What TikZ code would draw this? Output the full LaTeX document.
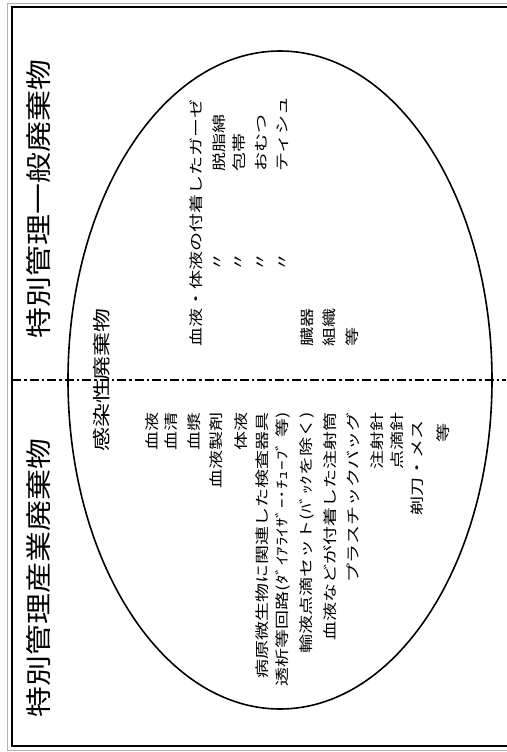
\documentclass[tikz,border=0pt]{standalone}
\usepackage{graphicx}
\usepackage{fontspec}
\newfontfamily\jp{Noto Sans CJK JP}
\newcommand\ttltxt[1]{\scalebox{1.19}[1]{\fontsize{26}{26}\selectfont #1}}
\newcommand\midtxt[1]{\scalebox{1.33}[1]{\fontsize{18}{18}\selectfont #1}}
\newcommand\lsttxt[1]{\scalebox{1.36}[1]{\fontsize{14}{14}\selectfont #1}}
\begin{document}
\begin{tikzpicture}[x=1pt,y=-1pt,
  lbl/.style={rotate=90, inner sep=0pt, font=\jp},
  endat/.style={lbl, anchor=east},
  startat/.style={lbl, anchor=west},
  frame/.style={line width=1.2pt},
  divider/.style={line width=1.5pt, dash pattern=on 9pt off 3pt on 2.5pt off 3pt},
  oval/.style={line width=1.6pt}
]
\useasboundingbox (0,0) rectangle (506,752);
% frame
\draw[gray!60, line width=0.5pt] (520,3) -- (7,3) -- (7,750) -- (520,750);
\draw[frame] (520,7) -- (12,7) -- (12,746) -- (520,746);
% ellipse
\draw[oval] (280,380) ellipse [x radius=212, y radius=329];
% divider
\coordinate (dl) at (12,380);
\coordinate (dr) at (506,380);
\draw[divider] (dl) -- (dr);
% titles
\node[lbl] (t1) at (38.5,578) {\ttltxt{特別管理産業廃棄物}};
\node[lbl] (t2) at (38.5,199) {\ttltxt{特別管理一般廃棄物}};
% centre heading
\node[lbl] (kansen) at (102,380) {\midtxt{感染性廃棄物}};
% left list
\node[endat] (l1) at (152,412) {\lsttxt{血液}};
\node[endat] (l2) at (171,412) {\lsttxt{血清}};
\node[endat] (l3) at (194,412) {\lsttxt{血漿}};
\node[endat] (l4) at (216,412) {\lsttxt{血液製剤}};
\node[endat] (l5) at (241,412) {\lsttxt{体液}};
\node[endat] (l6) at (262,412) {\lsttxt{病原微生物に関連した検査器具}};
\node[endat] (l7) at (283,412) {\lsttxt{透析等回路(ﾀﾞｲｱﾗｲｻﾞｰ･ﾁｭｰﾌﾞ 等)}};
\node[endat] (l8) at (307,412) {\lsttxt{輸液点滴セット(ﾊﾞｯｸを除く)}};
\node[endat] (l9) at (330,412) {\lsttxt{血液などが付着した注射筒}};
\node[endat] (l10) at (353,412) {\lsttxt{プラスチックバッグ}};
\node[endat] (l11) at (377,412) {\lsttxt{注射針}};
\node[endat] (l12) at (397,412) {\lsttxt{点滴針}};
\node[endat] (l13) at (417,420) {\lsttxt{剃刀・メス}};
\node[endat] (l14) at (443,423) {\lsttxt{等}};
% right list
\node[startat] (r1) at (196,347) {\lsttxt{血液・体液の付着したガーゼ}};
\node[lbl] (d1) at (218,262) {\lsttxt{〃}};
\node[lbl] (d2) at (239,262) {\lsttxt{〃}};
\node[lbl] (d3) at (261,262) {\lsttxt{〃}};
\node[lbl] (d4) at (283,262) {\lsttxt{〃}};
\node[startat] (r2) at (219,172) {\lsttxt{脱脂綿}};
\node[startat] (r3) at (239,172) {\lsttxt{包帯}};
\node[startat] (r4) at (261,172) {\lsttxt{おむつ}};
\node[startat] (r5) at (283,172) {\lsttxt{ティシュ}};
\node[startat] (r6) at (307,347) {\lsttxt{臓器}};
\node[startat] (r7) at (329,347) {\lsttxt{組織}};
\node[startat] (r8) at (352,347) {\lsttxt{等}};
\end{tikzpicture}
\end{document}
